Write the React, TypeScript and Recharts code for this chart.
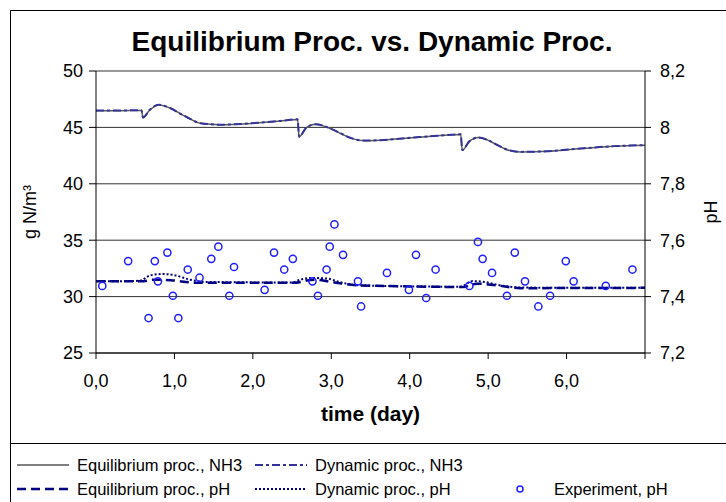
import React from "react";
import { ComposedChart, Line, Scatter, XAxis, YAxis, CartesianGrid } from "recharts";

// time (day) points for simulated NH3 curves
const nh3Times = [0, 0.3, 0.58, 0.6, 0.68, 0.8, 0.95, 1.08, 1.2, 1.33, 1.59, 1.93, 2.15, 2.35, 2.57, 2.59, 2.68, 2.8, 2.95, 3.12, 3.25, 3.42, 3.63, 4.06, 4.35, 4.65, 4.67, 4.76, 4.88, 5.0, 5.12, 5.25, 5.41, 5.76, 6.18, 6.61, 7.0];
const eqNH3 = [46.48, 46.48, 46.5, 45.86, 46.5, 46.99, 46.7, 46.19, 45.75, 45.36, 45.23, 45.33, 45.45, 45.56, 45.71, 44.16, 44.95, 45.27, 45.0, 44.46, 44.05, 43.82, 43.86, 44.1, 44.25, 44.38, 42.97, 43.75, 44.1, 43.85, 43.42, 43.0, 42.82, 42.88, 43.12, 43.33, 43.42];
const dynNH3 = [46.5, 46.5, 46.52, 45.88, 46.52, 47.0, 46.7, 46.2, 45.76, 45.37, 45.24, 45.34, 45.46, 45.57, 45.72, 44.18, 44.96, 45.28, 45.01, 44.47, 44.06, 43.83, 43.87, 44.11, 44.26, 44.39, 42.99, 43.76, 44.11, 43.86, 43.43, 43.01, 42.83, 42.89, 43.13, 43.34, 43.43];

// Equilibrium pH
const eqPhTimes = [0, 0.57, 0.75, 0.95, 1.28, 2.52, 2.78, 3.0, 3.33, 3.88, 4.68, 4.86, 5.1, 5.41, 7.0];
const eqPh = [7.454, 7.454, 7.46, 7.458, 7.449, 7.449, 7.46, 7.452, 7.44, 7.437, 7.434, 7.446, 7.44, 7.43, 7.431];

// Dynamic pH
const dynPhTimes = [0, 0.55, 0.7, 0.85, 1.0, 1.2, 1.4, 2.5, 2.6, 2.75, 2.95, 3.1, 3.35, 4.65, 4.8, 4.95, 5.15, 5.45, 7.0];
const dynPh = [7.454, 7.456, 7.476, 7.48, 7.476, 7.46, 7.452, 7.45, 7.46, 7.466, 7.464, 7.452, 7.44, 7.435, 7.455, 7.452, 7.44, 7.432, 7.431];

// Experiment pH
const expTimes = [0.08, 0.41, 0.67, 0.75, 0.79, 0.91, 0.98, 1.05, 1.17, 1.32, 1.47, 1.56, 1.7, 1.76, 2.15, 2.27, 2.4, 2.51, 2.76, 2.83, 2.94, 2.98, 3.04, 3.15, 3.34, 3.38, 3.71, 3.99, 4.08, 4.21, 4.33, 4.76, 4.87, 4.93, 5.05, 5.24, 5.34, 5.47, 5.64, 5.79, 5.99, 6.09, 6.5, 6.84];
const expPh = [7.438, 7.526, 7.324, 7.526, 7.454, 7.556, 7.403, 7.324, 7.496, 7.467, 7.534, 7.577, 7.403, 7.505, 7.424, 7.556, 7.496, 7.534, 7.454, 7.403, 7.496, 7.577, 7.656, 7.548, 7.454, 7.365, 7.484, 7.424, 7.548, 7.395, 7.496, 7.438, 7.594, 7.534, 7.484, 7.403, 7.556, 7.454, 7.365, 7.403, 7.526, 7.454, 7.438, 7.496];

const xTicks = [0, 1, 2, 3, 4, 5, 6, 7];
const leftTicks = [25, 30, 35, 40, 45, 50];
const rightTicks = [7.2, 7.4, 7.6, 7.8, 8.0, 8.2];

const zip = (xs: number[], ys: number[]) => xs.map((x, i) => ({ x, y: ys[i] }));
const eqNH3Data = zip(nh3Times, eqNH3);
const dynNH3Data = zip(nh3Times, dynNH3);
const eqPhData = zip(eqPhTimes, eqPh);
const dynPhData = zip(dynPhTimes, dynPh);
const expData = zip(expTimes, expPh);

const FONT = "'Liberation Sans', Arial, sans-serif";

const Circle = (props: any) => (
  <circle cx={props.cx} cy={props.cy} r={3.6} fill="none" stroke="#1f1fff" strokeWidth={1.5} />
);

const Swatch = ({ type }: { type: string }) => {
  if (type === "circle")
    return (
      <svg width={54} height={12} style={{ display: "block" }}>
        <circle cx={20} cy={6} r={3} fill="none" stroke="#1f1fff" strokeWidth={1.5} />
      </svg>
    );
  const styles: Record<string, any> = {
    eqnh3: { stroke: "#808080", dash: undefined, w: 2 },
    dynnh3: { stroke: "#333399", dash: "8 3 3 3", w: 2 },
    eqph: { stroke: "#000080", dash: "9 5", w: 2.5 },
    dynph: { stroke: "#000080", dash: "2 2", w: 2 },
  };
  const s = styles[type];
  return (
    <svg width={54} height={12} style={{ display: "block" }}>
      <line x1={0} y1={6} x2={52} y2={6} stroke={s.stroke} strokeWidth={s.w} strokeDasharray={s.dash} />
    </svg>
  );
};

const legendItems = [
  { type: "eqnh3", label: "Equilibrium proc., NH3", left: 17, top: 455 },
  { type: "dynnh3", label: "Dynamic proc., NH3", left: 255, top: 455 },
  { type: "eqph", label: "Equilibrium proc., pH", left: 17, top: 479 },
  { type: "dynph", label: "Dynamic proc., pH", left: 255, top: 479 },
  { type: "circle", label: "Experiment, pH", left: 500, top: 479 },
];

export default function App() {
  return (
    <div style={{ position: "absolute", left: 0, top: 0, width: 726, height: 502, overflow: "hidden", background: "#fff", fontFamily: FONT }}>
      <div style={{ position: "absolute", left: 10, top: 10, width: 900, height: 700, border: "1px solid #000", boxSizing: "border-box" }} />
      <div style={{ position: "absolute", left: 10, top: 443, width: 716, height: 1, background: "#000" }} />
      <div style={{ position: "absolute", left: 0, top: 0 }}>
        <ComposedChart width={726} height={502} margin={{ top: 71, right: 0, bottom: 119, left: 0 }}>
          <CartesianGrid yAxisId="nh3" horizontal={true} vertical={false} stroke="#333" strokeWidth={1} />
          <XAxis
            dataKey="x"
            type="number"
            domain={[0, 7]}
            ticks={xTicks}
            tickFormatter={(v: number) => (v === 7 ? "" : v.toFixed(1).replace(".", ","))}
            allowDataOverflow
            height={30}
            tickSize={6}
            tickMargin={15}
            stroke="#000"
            tick={{ fill: "#000", fontSize: 18, fontFamily: FONT }}
          />
          <YAxis
            yAxisId="nh3"
            domain={[25, 50]}
            ticks={leftTicks}
            width={96}
            tickSize={7}
            tickMargin={6}
            stroke="#000"
            tick={{ fill: "#000", fontSize: 18, fontFamily: FONT }}
            allowDataOverflow
          />
          <YAxis
            yAxisId="ph"
            orientation="right"
            domain={[7.2, 8.2]}
            ticks={rightTicks}
            width={81}
            tickSize={6}
            tickMargin={9}
            stroke="#000"
            tickFormatter={(v: number) => String(Math.round(v * 10) / 10).replace(".", ",")}
            tick={{ fill: "#000", fontSize: 18, fontFamily: FONT }}
            allowDataOverflow
          />
          <Line yAxisId="nh3" data={eqNH3Data} dataKey="y" type="monotone" stroke="#5a5a5a" strokeWidth={1.5} dot={false} isAnimationActive={false} />
          <Line yAxisId="nh3" data={dynNH3Data} dataKey="y" type="monotone" stroke="#333399" strokeWidth={2} strokeDasharray="8 3 3 3" dot={false} isAnimationActive={false} />
          <Line yAxisId="ph" data={eqPhData} dataKey="y" type="monotone" stroke="#000080" strokeWidth={2.5} strokeDasharray="9 5" dot={false} isAnimationActive={false} />
          <Line yAxisId="ph" data={dynPhData} dataKey="y" type="monotone" stroke="#000080" strokeWidth={2} strokeDasharray="2 2" dot={false} isAnimationActive={false} />
          <Scatter yAxisId="ph" data={expData} dataKey="y" shape={Circle} isAnimationActive={false} />
        </ComposedChart>
      </div>
      <div style={{ position: "absolute", left: 0, width: 744, top: 26, textAlign: "center", fontSize: 28, fontWeight: "bold", lineHeight: "32px" }}>
        Equilibrium Proc. vs. Dynamic Proc.
      </div>
      <div style={{ position: "absolute", left: 96, width: 549, top: 402, textAlign: "center", fontSize: 21, fontWeight: "bold", lineHeight: "24px" }}>
        time (day)
      </div>
      <div style={{ position: "absolute", left: 30, top: 212, width: 0, height: 0 }}>
        <div style={{ position: "absolute", left: -60, top: -11, width: 120, textAlign: "center", fontSize: 18, lineHeight: "22px", transform: "rotate(-90deg)" }}>
          g N/m³
        </div>
      </div>
      <div style={{ position: "absolute", left: 711, top: 212, width: 0, height: 0 }}>
        <div style={{ position: "absolute", left: -40, top: -11, width: 80, textAlign: "center", fontSize: 18, lineHeight: "22px", transform: "rotate(-90deg)" }}>
          pH
        </div>
      </div>
      {legendItems.map((it) => (
        <div key={it.label} style={{ position: "absolute", left: it.left, top: it.top, display: "flex", alignItems: "center", fontSize: 16.5, lineHeight: "20px", whiteSpace: "nowrap" }}>
          <Swatch type={it.type} />
          <span style={{ marginLeft: it.type === "circle" ? 0 : 6 }}>{it.label}</span>
        </div>
      ))}
    </div>
  );
}
